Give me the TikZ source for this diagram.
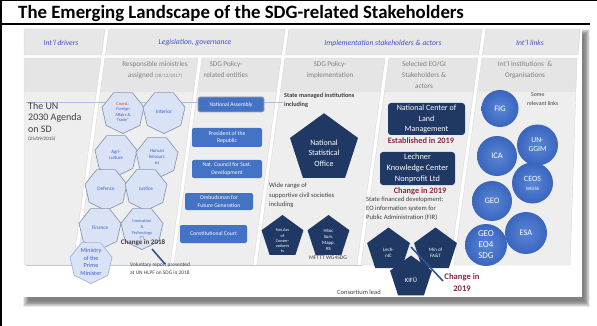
\documentclass[tikz,border=0pt]{standalone}
\usepackage{fontspec}
\setmainfont{Carlito}
\usetikzlibrary{shapes.geometric}

\definecolor{tabfill}{HTML}{E7E7E7}
\definecolor{tabedge}{HTML}{D0D0D0}
\definecolor{colfill}{HTML}{EEEEEE}
\definecolor{colhead}{HTML}{E5E5E5}
\definecolor{coledge}{HTML}{D9D9D9}
\definecolor{tabblue}{HTML}{3F4FC8}
\definecolor{hdrgray}{HTML}{808080}
\definecolor{minfill}{HTML}{DAE3F5}
\definecolor{minedge}{HTML}{8A97AD}
\definecolor{minblue}{HTML}{3D5FD0}
\definecolor{pmedge}{HTML}{9DB3E0}
\definecolor{entblue}{HTML}{4472C4}
\definecolor{navy}{HTML}{1F3864}
\definecolor{ballin}{HTML}{5885D8}
\definecolor{ballout}{HTML}{3A65BD}
\definecolor{darktxt}{HTML}{404040}
\definecolor{chgred}{HTML}{8A2744}
\definecolor{linkblue}{HTML}{2F5597}
\definecolor{rulebl}{HTML}{A9BEE0}
\definecolor{coordred}{HTML}{E03A3A}

\newcommand{\fsz}[2]{\fontsize{#1pt}{#2pt}\selectfont}

\tikzset{
  tabshape/.style={fill=tabfill, draw=tabedge, line width=0.4pt},
  tablabel/.style={font=\fsz{7.6}{9}\itshape, text=tabblue, inner sep=0},
  colhdr/.style={font=\fsz{7.2}{11}, text=hdrgray, align=center, inner sep=0, anchor=north},
  ministry/.style={regular polygon, regular polygon sides=7, shape border rotate=180,
    minimum size=43pt, inner sep=0pt, fill=minfill, draw=minedge, line width=0.7pt},
  mlabel/.style={font=\fsz{4.9}{6}, text=minblue, align=center, inner sep=0},
  entity/.style={rectangle, rounded corners=2pt, fill=entblue, text=white,
    font=\fsz{5.7}{7.5}, align=center, inner sep=0},
  navybox/.style={rectangle, rounded corners=3pt, fill=navy, text=white,
    font=\fsz{8}{10.5}, align=center, inner sep=0},
  navypenta/.style={regular polygon, regular polygon sides=5, inner sep=0pt, fill=navy},
  plabel/.style={text=white, align=center, inner sep=0},
  intlball/.style={circle, inner sep=0pt, inner color=ballin, outer color=ballout,
    text=white, align=center, font=\fsz{8.4}{10}},
  notetext/.style={text=darktxt, align=left, inner sep=0, anchor=north west},
  changelbl/.style={font=\fsz{8.3}{11.5}\bfseries, text=chgred, align=center, inner sep=0},
  linkline/.style={draw=linkblue, line width=1.6pt},
}

\begin{document}
\begin{tikzpicture}[x=1pt,y=-1pt]
\useasboundingbox (0,0) rectangle (597,326);
\fill[white] (0,0) rectangle (597,326);

% page frame and title bar
\draw[line width=1.6pt] (0.8,0) -- (0.8,326);
\draw[line width=1.2pt] (0,0.6) -- (597,0.6);
\draw[line width=2pt] (0,24) -- (590,24);
\node[anchor=base west, font=\fsz{18.8}{22}\bfseries, inner sep=0] (title) at (18,18.5)
  {The Emerging Landscape of the SDG-related Stakeholders};

% soft shadow under the slide
\foreach \i in {0,...,8} {
  \fill[black, opacity=0.07] (23+\i*0.7, 29+\i*0.7) rectangle (590-\i*0.7, 307-\i*0.7);
}
\fill[white] (22,27) rectangle (582,297);

% tabs of the top row
\path[tabshape] (24,29) -- (105,29) -- (101.5,55) -- (24,55) -- cycle;
\path[tabshape] (109,29) -- (285,29) -- (281.5,55) -- (105.5,55) -- cycle;
\path[tabshape] (289,29) -- (482,29) -- (478.5,55) -- (285.5,55) -- cycle;
\path[tabshape] (486,29) -- (580,29) -- (578,55) -- (482.5,55) -- cycle;
\node[tablabel] (t1) at (61,43) {Int'l drivers};
\node[tablabel] (t2) at (195,43) {Legislation, governance};
\node[tablabel] (t3) at (383,43) {Implementation stakeholders \& actors};
\node[tablabel] (t4) at (530,43) {Int'l links};

% slanted column panels
\fill[colfill] (24,58) -- (101,58) -- (73,265) -- (24,265) -- cycle;
\fill[colfill] (105,58) -- (198,58) -- (170,265) -- (77,265) -- cycle;
\fill[colfill] (202,58) -- (281,58) -- (253,265) -- (174,265) -- cycle;
\fill[colfill] (285,58) -- (385,58) -- (357,265) -- (257,265) -- cycle;
\fill[colfill] (389,58) -- (478,58) -- (450,265) -- (361,265) -- cycle;
\fill[colfill] (482,58) -- (577,58) -- (570,265) -- (454,265) -- cycle;
\begin{scope}
  \clip (24,58) -- (101,58) -- (73,265) -- (24,265) -- cycle
        (105,58) -- (198,58) -- (170,265) -- (77,265) -- cycle
        (202,58) -- (281,58) -- (253,265) -- (174,265) -- cycle
        (285,58) -- (385,58) -- (357,265) -- (257,265) -- cycle
        (389,58) -- (478,58) -- (450,265) -- (361,265) -- cycle
        (482,58) -- (577,58) -- (570,265) -- (454,265) -- cycle;
  \fill[colhead] (20,58) rectangle (590,92);
\end{scope}
\draw[coledge, line width=0.4pt] (24,58) -- (101,58) -- (73,265) -- (24,265) -- cycle
  (105,58) -- (198,58) -- (170,265) -- (77,265) -- cycle
  (202,58) -- (281,58) -- (253,265) -- (174,265) -- cycle
  (285,58) -- (385,58) -- (357,265) -- (257,265) -- cycle
  (389,58) -- (478,58) -- (450,265) -- (361,265) -- cycle
  (482,58) -- (577,58) -- (570,265) -- (454,265) -- cycle;
\draw[rulebl!60!gray!60, line width=0.6pt] (26,265.5) -- (362,265.5);
\draw[rulebl, line width=0.8pt] (26,102) -- (283,102);

% column headings
\node[colhdr] (h1) at (155,61) {Responsible ministries\\assigned {\fsz{5}{6}(28/12/2017)}};
\node[colhdr] (h2) at (226,61) {SDG Policy-\\related entities};
\node[colhdr] (h3) at (330,61) {SDG Policy-\\implementation};
\node[colhdr] (h4) at (424,61) {Selected EO/GI\\Stakeholders \&\\actors};
\node[colhdr] (h5) at (525,61) {Int'l Institutions \ \&\\Organisations};

% international drivers
\node[notetext, font=\fsz{10}{11.5}] (agenda) at (28,102) {The UN\\2030 Agenda\\on SD};
\node[notetext, font=\fsz{5}{6}] (agendadate) at (28,137) {(25/09/2015)};

% responsible ministries
\node[ministry] (mfa) at (123,112) {};
\node[ministry] (intr) at (164,112) {};
\node[ministry] (agri) at (116,155) {};
\node[ministry] (hrm) at (157,157) {};
\node[ministry] (def) at (106,189) {};
\node[ministry] (jus) at (146,189) {};
\node[ministry] (fin) at (100,228) {};
\node[ministry] (inno) at (142,228) {};
\node[ministry, draw=pmedge] (pm) at (91,262) {};
\node[mlabel, font=\fsz{4.4}{5.6}] (mfa-l) at (mfa) {{\color{coordred}Coord.:}\\Foreign\\Affairs \&\\Trade*};
\node[mlabel, font=\fsz{5.3}{6}] (intr-l) at (intr) {Interior};
\node[mlabel] (agri-l) at (agri) {Agri-\\culture};
\node[mlabel] (hrm-l) at (hrm) {Human\\Resourc\\es};
\node[mlabel, font=\fsz{5.2}{6}] (def-l) at (def) {Defence};
\node[mlabel, font=\fsz{5.2}{6}] (jus-l) at (jus) {Justice};
\node[mlabel, font=\fsz{5.2}{6}] (fin-l) at (fin) {Finance};
\node[mlabel, font=\fsz{4.4}{5.6}] (inno-l) at ([yshift=-2pt]inno) {Innovation\\\&\\Technology\\(*)};
\node[mlabel, font=\fsz{6.2}{7.6}] (pm-l) at (pm) {Ministry\\of the\\Prime\\Minister};

\node[font=\fsz{7}{8}\bfseries, text=darktxt, inner sep=0.5pt] (ch18) at (143,243) {Change in 2018};
\coordinate (ch18a) at (152,249);
\coordinate (ch18b) at (165,264);
\draw[linkline] (ch18a) -- (ch18b);
\node[notetext, font=\fsz{5.4}{7.5}] (vnr) at (130,263) {Voluntary report presented\\at UN HLPF on SDG in 2018};

% SDG policy-related entities
\node[entity, draw=gray!70, line width=0.8pt, minimum width=66pt, minimum height=15pt] (natass) at (231,104.5) {National Assembly};
\node[entity, minimum width=70pt, minimum height=19pt] (pres) at (227,137.5) {President of the\\Republic};
\node[entity, minimum width=70pt, minimum height=18pt] (ncsd) at (227,169) {Nat. Council for Sust.\\Development};
\node[entity, minimum width=68pt, minimum height=17pt] (omb) at (219,201.5) {Ombudsman for\\Future Generation};
\node[entity, minimum width=67pt, minimum height=18pt] (court) at (213.5,234) {Constitutional Court};

% SDG policy implementation
\node[notetext, font=\fsz{6.3}{9}\bfseries] (statem) at (284,93) {State managed institutions\\including};
\node[navypenta, minimum size=71.5pt] (nso) at (324,149) {};
\node[plabel, font=\fsz{8}{10.5}] (nso-l) at (324,153) {National\\Statistical\\Office};
\node[notetext, font=\fsz{6.6}{9.6}] (civil) at (269,183) {Wide range of\\supportive civil societies\\including};
\node[navypenta, minimum size=44pt] (nac) at (282.5,237) {};
\node[navypenta, minimum size=44pt] (hsoc) at (328.5,237) {};
\node[plabel, font=\fsz{4.3}{5.2}] (nac-l) at (282.5,241) {Nat.Ass\\of\\Conser-\\vationis\\ts};
\node[plabel, font=\fsz{4.8}{5.8}] (hsoc-l) at (328.5,240) {HSoc\\Surv.\\Mapp.\\RS};
\node[font=\fsz{5.6}{7}, text=darktxt, inner sep=0] (mfttt) at (328,258) {MFTTT WG4SDG};

% selected EO/GI stakeholders
\node[navybox, minimum width=77pt, minimum height=32pt] (nclm) at (426.5,119) {National Center of\\Land\\Management};
\node[changelbl] (est19) at (421,141) {Established in 2019};
\node[navybox, font=\fsz{8.3}{10.8}, minimum width=75pt, minimum height=33pt] (lech) at (417.5,168.5) {Lechner\\Knowledge Center\\Nonprofit Ltd};
\node[changelbl] (chg19a) at (420,191) {Change in 2019};
\node[notetext, font=\fsz{6.6}{9}] (fir) at (366,197) {State financed development:\\EO information system for\\Public Administration (FIR)};
\node[navypenta, minimum size=45pt] (lechnic) at (388.5,250) {};
\node[navypenta, minimum size=45pt] (minfat) at (435.5,250) {};
\node[plabel, font=\fsz{5}{6.4}] (lechnic-l) at (388.5,253) {Lech-\\nIC};
\node[plabel, font=\fsz{5}{6.4}] (minfat-l) at (435.5,253) {Min of\\FA\&T};
\coordinate (chg19tail) at (411,247);
\coordinate (chg19head) at (443,281);
\draw[linkline] (chg19tail) -- (chg19head);
\node[navypenta, minimum size=44pt] (kifu) at (411,277.5) {};
\node[plabel, font=\fsz{6.5}{8}] (kifu-l) at (411,280) {KIFÜ};
\node[changelbl, font=\fsz{8.6}{12}\bfseries] (chg19b) at (462,283) {Change in\\2019};
\node[anchor=west, font=\fsz{6.5}{8}, text=darktxt, inner sep=0] (cons) at (337,292) {Consortium lead};

% international institutions
\node[notetext, font=\fsz{5.8}{8.5}] (somelinks) at (527,93) {\hspace*{4pt}Some\\relevant links};
\node[intlball, minimum size=37pt] (fig) at (500,108.5) {FIG};
\node[intlball, minimum size=41pt, font=\fsz{7.6}{9}] (ggim) at (537.5,145) {UN-\\GGIM};
\node[intlball, minimum size=40pt] (ica) at (497,156) {ICA};
\node[intlball, minimum size=41pt, font=\fsz{8}{9}] (ceos) at (532.5,183) {CEOS\\{\fsz{5}{6}WGISS}};
\node[intlball, minimum size=40pt] (geo) at (492,201) {GEO};
\node[intlball, minimum size=42pt] (esa) at (526,233) {ESA};
\node[intlball, minimum size=42pt, font=\fsz{9}{11}] (geoeo) at (486,245) {GEO\\EO4\\SDG};
\end{tikzpicture}
\end{document}
